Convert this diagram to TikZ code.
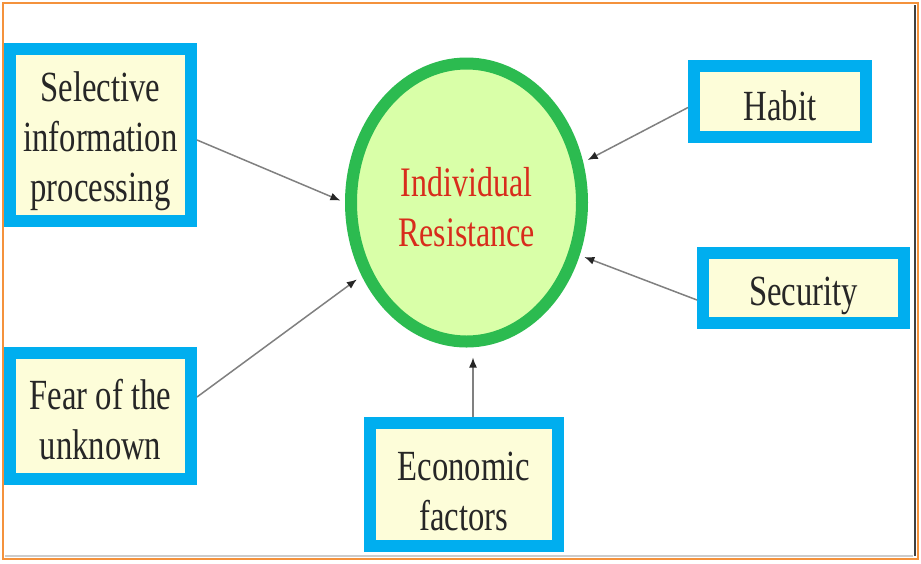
\documentclass[tikz,border=0pt]{standalone}
\usepackage{fontspec}
\setmainfont[FakeStretch=0.76]{Liberation Serif}
\usetikzlibrary{arrows.meta,shapes.geometric}
\definecolor{boxblue}{RGB}{0,174,239}
\definecolor{boxfill}{RGB}{253,253,217}
\definecolor{ellgreen}{RGB}{44,187,80}
\definecolor{ellfill}{RGB}{217,255,168}
\definecolor{txtred}{RGB}{216,44,28}
\definecolor{frameorange}{RGB}{244,146,60}
\definecolor{linegray}{RGB}{128,128,128}
% #1 = how far the visual centre of the text sits below the node centre,
% #2 = number of lines, #3 = the lines
\newcommand\blk[3]{\raisebox{-\dimexpr #1+4.25pt\relax}[35pt][\dimexpr #2\dimexpr 50pt\relax-35pt\relax]{\begin{tabular}[t]{@{}c@{}}#3\end{tabular}}}
\begin{document}
\begin{tikzpicture}[x=1pt,y=-1pt,
  factor/.style={rectangle,draw=boxblue,line width=12pt,fill=boxfill,inner sep=0pt,
    font=\fontsize{43}{50}\selectfont,text=black!85},
  core/.style={ellipse,draw=ellgreen,line width=12pt,fill=ellfill,
    minimum width=231pt,minimum height=278pt,inner sep=0pt,
    text=txtred,font=\fontsize{42}{50}\selectfont},
  arr/.style={draw=linegray,line width=1.5pt,-{Latex[length=10pt,width=8pt,color=black!85]}}]
\useasboundingbox (0,0) rectangle (921,563);
\fill[white] (0,0) rectangle (921,563);

\node[core] (ell) at (466.5,202.5) {\blk{5pt}{2}{Individual\\Resistance}};

\node[factor,minimum width=181pt,minimum height=172pt] (sel) at (100.5,135) {\blk{2pt}{3}{Selective\\information\\processing}};
\node[factor,minimum width=181pt,minimum height=126pt] (fear) at (100.5,416) {\blk{4.5pt}{2}{Fear of the\\unknown}};
\node[factor,minimum width=172pt,minimum height=71pt] (habit) at (780,101.5) {\blk{5pt}{1}{Habit}};
\node[factor,minimum width=201pt,minimum height=70pt] (sec) at (803.5,288) {\blk{3pt}{1}{Security}};
\node[factor,minimum width=188pt,minimum height=123pt] (econ) at (464,484.5) {\blk{7pt}{2}{Economic\\factors}};

\draw[arr,shorten >=5pt] ([yshift=-5pt]sel.east) -- (ell.west);
\draw[arr,shorten >=6pt] ([yshift=19pt]fear.east) -- (ell.215);
\draw[arr,shorten >=5pt] ([yshift=-6pt]habit.west) -- (ell.19);
\draw[arr,shorten >=5pt] ([yshift=-12pt]sec.west) -- (ell.335);
\draw[arr,shorten >=10pt] ([xshift=9pt]econ.north) -- ([xshift=9pt]econ.north |- ell.south);

\draw[frameorange,line width=2.5pt] (3,3) rectangle (918,559);
\draw[black!75,line width=2pt] (914.5,5) -- (914.5,556);
\draw[black!20,line width=2pt] (5,556) -- (913,556);
\end{tikzpicture}
\end{document}
